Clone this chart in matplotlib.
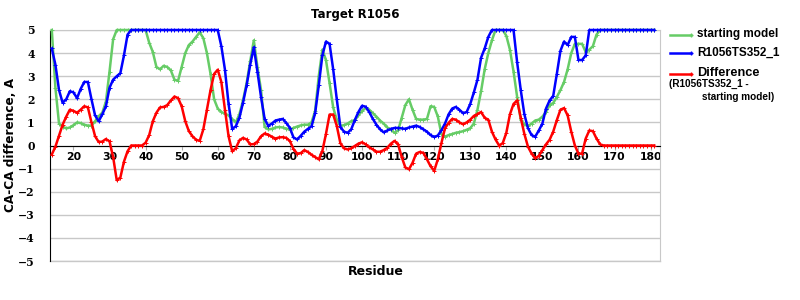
import matplotlib
matplotlib.use("Agg")
import matplotlib.pyplot as plt
from matplotlib.lines import Line2D

# ── Data ────────────────────────────────────────────────────────────────────
residues = list(range(14, 182))

starting_model = [
    5.0, 2.5, 0.95, 0.82, 0.74, 0.78, 0.88, 1.0, 0.97, 0.9,          # 14-23
    0.86, 0.86, 1.05, 1.27, 1.42, 1.9, 3.2, 4.6, 5.0, 5.0,           # 24-33
    5.0, 5.0, 5.0, 5.0, 5.0, 5.0, 5.0, 4.45, 4.05, 3.4,              # 34-43
    3.3, 3.45, 3.4, 3.25, 2.85, 2.8, 3.4, 4.0, 4.35, 4.5,            # 44-53
    4.7, 4.9, 4.65, 4.0, 3.1, 2.0, 1.6, 1.45, 1.38, 1.3,             # 54-63
    1.15, 1.0, 1.35, 1.95, 2.7, 3.65, 4.55, 3.4, 2.4, 0.8,           # 64-73
    0.7, 0.72, 0.78, 0.8, 0.78, 0.73, 0.69, 0.76, 0.82, 0.87,        # 74-83
    0.9, 0.9, 1.0, 1.5, 3.0, 4.15, 3.7, 2.7, 1.65, 1.1,              # 84-93
    0.85, 0.88, 0.95, 1.05, 1.1, 1.3, 1.5, 1.62, 1.55, 1.4,          # 94-103
    1.25, 1.08, 0.95, 0.78, 0.69, 0.55, 0.65, 1.2, 1.75, 2.0,        # 104-113
    1.55, 1.15, 1.12, 1.12, 1.15, 1.7, 1.67, 1.26, 0.5, 0.38,        # 114-123
    0.45, 0.5, 0.55, 0.58, 0.62, 0.68, 0.75, 0.95, 1.55, 2.35,       # 124-133
    3.3, 4.0, 4.55, 5.0, 5.0, 5.0, 4.75, 4.15, 3.2, 2.1,             # 134-143
    1.12, 0.92, 0.83, 0.95, 1.08, 1.12, 1.25, 1.45, 1.75, 1.84,      # 144-153
    2.1, 2.4, 2.75, 3.3, 4.0, 4.4, 4.4, 4.4, 4.05, 4.15,             # 154-163
    4.3, 4.8, 5.0, 5.0, 5.0, 5.0, 5.0, 5.0, 5.0, 5.0,                # 164-173
    5.0, 5.0, 5.0, 5.0, 5.0, 5.0, 5.0, 5.0,                          # 174-181
]

model_ts352 = [
    4.2, 3.5, 2.4, 1.85, 2.0, 2.35, 2.3, 2.05, 2.45, 2.75,           # 14-23
    2.75, 2.0, 1.3, 1.05, 1.35, 1.7, 2.5, 2.85, 3.0, 3.13,           # 24-33
    3.9, 4.8, 5.0, 5.0, 5.0, 5.0, 5.0, 5.0, 5.0, 5.0,                # 34-43
    5.0, 5.0, 5.0, 5.0, 5.0, 5.0, 5.0, 5.0, 5.0, 5.0,                # 44-53
    5.0, 5.0, 5.0, 5.0, 5.0, 5.0, 5.0, 4.3, 3.28, 1.8,               # 54-63
    0.72, 0.83, 1.2, 1.85, 2.6, 3.5, 4.25, 3.2, 2.1, 1.15,           # 64-73
    0.85, 0.95, 1.08, 1.12, 1.15, 0.98, 0.76, 0.35, 0.26, 0.42,      # 74-83
    0.6, 0.72, 0.83, 1.4, 2.6, 3.9, 4.5, 4.4, 3.3, 2.0,              # 84-93
    0.8, 0.6, 0.55, 0.7, 1.1, 1.45, 1.72, 1.68, 1.45, 1.15,          # 94-103
    0.9, 0.7, 0.57, 0.65, 0.72, 0.76, 0.76, 0.74, 0.72, 0.78,        # 104-113
    0.82, 0.86, 0.8, 0.7, 0.6, 0.45, 0.37, 0.43, 0.66, 0.95,         # 114-123
    1.35, 1.6, 1.67, 1.55, 1.4, 1.45, 1.8, 2.3, 2.85, 3.8,           # 124-133
    4.2, 4.7, 5.0, 5.0, 5.0, 5.0, 5.0, 5.0, 5.0, 3.6,                # 134-143
    2.4, 1.35, 0.75, 0.45, 0.38, 0.65, 0.95, 1.6, 1.95, 2.15,        # 144-153
    3.1, 4.1, 4.5, 4.35, 4.7, 4.7, 3.7, 3.7, 3.9, 5.0,               # 154-163
    5.0, 5.0, 5.0, 5.0, 5.0, 5.0, 5.0, 5.0, 5.0, 5.0,                # 164-173
    5.0, 5.0, 5.0, 5.0, 5.0, 5.0, 5.0, 5.0,                          # 174-181
]

difference = [
    -0.39, -0.05, 0.42, 0.9, 1.25, 1.55, 1.5, 1.42, 1.55, 1.7,       # 14-23
    1.65, 1.0, 0.4, 0.15, 0.17, 0.28, 0.18, -0.5, -1.5, -1.39,       # 24-33
    -0.7, -0.25, 0.0, 0.0, 0.0, 0.0, 0.12, 0.45, 1.05, 1.42,         # 34-43
    1.65, 1.67, 1.75, 1.95, 2.12, 2.05, 1.7, 1.05, 0.62, 0.4,        # 44-53
    0.25, 0.2, 0.7, 1.55, 2.4, 3.1, 3.28, 2.75, 1.55, 0.4,           # 54-63
    -0.25, -0.12, 0.22, 0.33, 0.26, 0.05, 0.06, 0.17, 0.4, 0.52,     # 64-73
    0.47, 0.38, 0.3, 0.35, 0.36, 0.33, 0.19, -0.15, -0.35, -0.33,    # 74-83
    -0.2, -0.28, -0.4, -0.5, -0.6, -0.24, 0.5, 1.34, 1.34, 0.85,     # 84-93
    0.1, -0.12, -0.17, -0.12, -0.02, 0.08, 0.14, 0.05, -0.08, -0.17, # 94-103
    -0.27, -0.27, -0.2, -0.1, 0.08, 0.2, 0.05, -0.5, -0.95, -1.03,   # 104-113
    -0.75, -0.35, -0.28, -0.32, -0.6, -0.9, -1.1, -0.6, 0.1, 0.75,   # 114-123
    0.98, 1.15, 1.12, 1.0, 0.92, 1.0, 1.12, 1.28, 1.36, 1.45,        # 124-133
    1.2, 1.12, 0.6, 0.26, 0.0, 0.1, 0.55, 1.35, 1.8, 1.95,           # 134-143
    1.2, 0.5, -0.05, -0.35, -0.55, -0.45, -0.2, 0.05, 0.25, 0.6,     # 144-153
    1.1, 1.55, 1.62, 1.3, 0.6, 0.0, -0.35, -0.35, 0.3, 0.65,         # 154-163
    0.62, 0.3, 0.05, 0.0, 0.0, 0.0, 0.0, 0.0, 0.0, 0.0,              # 164-173
    0.0, 0.0, 0.0, 0.0, 0.0, 0.0, 0.0, 0.0,                          # 174-181
]

x_ticks = list(range(20, 181, 10))
y_ticks = list(range(-5, 6))

GREEN = "#66cc66"
BLUE = "#0000ff"
RED = "#ff0000"
GRID = "#c8c8c8"

# ── Figure ──────────────────────────────────────────────────────────────────
fig = plt.figure(figsize=(8, 3), dpi=100)
ax = fig.add_axes([0.0625, 0.13, 0.7625, 0.77])

line_kw = dict(lw=1.8, marker="+", ms=2.5, mew=0.7, clip_on=False)
ax.plot(residues, starting_model, color=GREEN, zorder=3, **line_kw)
ax.plot(residues, model_ts352, color=BLUE, zorder=4, **line_kw)
ax.plot(residues, difference, color=RED, zorder=5, **line_kw)

ax.set_xlim(13.5, 182.6)
ax.set_ylim(-5, 5)
ax.set_yticks(y_ticks)
ax.set_xticks(x_ticks)
ax.yaxis.grid(True, color=GRID, lw=1)
ax.set_axisbelow(True)

ax.spines["bottom"].set_position(("data", 0))
ax.spines["bottom"].set_color("black")
ax.spines["left"].set_color("black")
ax.spines["top"].set_color(GRID)
ax.spines["right"].set_color(GRID)
ax.axhline(-5, color=GRID, lw=1, clip_on=False, zorder=1)

ax.tick_params(axis="x", length=3, width=0.8, color="#aaaaaa", pad=2,
               labelsize=7.8)
ax.tick_params(axis="y", length=0, pad=11, labelsize=7.8)
for lbl in ax.get_xticklabels():
    lbl.set_fontweight("bold")
    lbl.set_family("DejaVu Sans")
for lbl in ax.get_yticklabels():
    lbl.set_fontweight("bold")
    lbl.set_family("DejaVu Serif")

ax.set_ylabel("CA-CA difference, A", fontsize=8.7, fontweight="bold")
ax.yaxis.set_label_coords(-0.054, 0.5)
fig.text(0.47, 0.095, "Residue", ha="center", va="center",
         fontsize=9, fontweight="bold")
fig.text(0.444, 0.953, "Target R1056", ha="center", va="center",
         fontsize=8.5, fontweight="bold")

# ── Legend ──────────────────────────────────────────────────────────────────
leg_font = "Liberation Sans"
for y_px, color, label, size in [(34.5, GREEN, "starting model", 8.5),
                                 (52.5, BLUE, "R1056TS352_1", 8.5),
                                 (73.5, RED, "Difference", 9.2)]:
    yf = 1 - y_px / 300
    fig.add_artist(Line2D([670 / 800, 691 / 800], [yf, yf], color=color,
                          lw=1.8, marker="+", ms=2.5, markevery=[1]))
    fig.text(697 / 800, yf, label, ha="left", va="center", fontsize=size,
             fontweight="bold", family=leg_font)
fig.text(669 / 800, 1 - 84 / 300, "(R1056TS352_1 -", ha="left", va="center",
         fontsize=7.2, fontweight="bold", family=leg_font)
fig.text(702 / 800, 1 - 97 / 300, "starting model)", ha="left", va="center",
         fontsize=7.2, fontweight="bold", family=leg_font)

fig.savefig("out.png", dpi=100)
